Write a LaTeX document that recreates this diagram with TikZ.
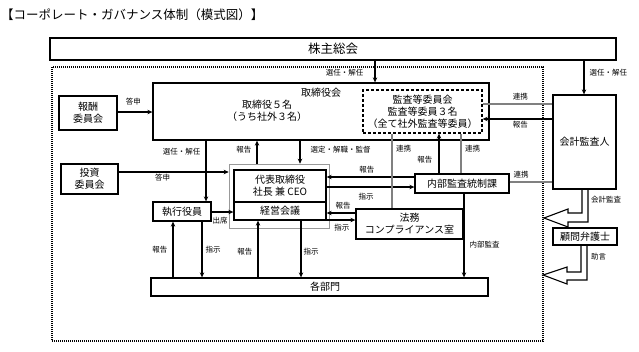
\documentclass[tikz,border=0pt]{standalone}
\usepackage{fontspec}
\setmainfont{Noto Sans CJK JP}
\usetikzlibrary{arrows.meta}

\begin{document}
\begin{tikzpicture}[x=1pt,y=-1pt,>={Stealth[length=5pt,width=4.5pt]},
 box/.style={draw,line width=1.3pt,inner sep=0pt,align=center,
 font=\fontsize{10}{12}\selectfont},
 txt/.style={inner sep=0pt,align=center,font=\fontsize{10}{12}\selectfont},
 lbl/.style={inner sep=1pt,font=\fontsize{7.5}{8}\selectfont},
 arr/.style={->,line width=1.1pt},
 link/.style={line width=2.4pt,draw=black!50},
 hollow/.style={fill=white,draw,line width=1.1pt,line join=miter}]
\useasboundingbox (0,0) rectangle (639,351);
\node[anchor=west,inner sep=0pt,font=\fontsize{12.5}{14}\selectfont] (title) at (1,15)
 {【コーポレート・ガバナンス体制（模式図）】};
\node[box,minimum width=566pt,minimum height=22pt,
 font=\fontsize{12.5}{14}\selectfont] (agm) at (333,49) {株主総会};
\node[draw,dash pattern=on 1pt off 1pt,line width=1.2pt,inner sep=0pt,
 minimum width=491pt,minimum height=274pt] (gov) at (297.5,204) {};
\draw[hollow] (582,189) -- (582,213) -- (568,213) -- (568,209) -- (544,218)
 -- (568,227) -- (568,222) -- (588,222) -- (588,189);
\draw[hollow] (581,245) -- (581,272) -- (567,272) -- (567,267) -- (543,275)
 -- (567,284) -- (567,280) -- (587,280) -- (587,245);
\node[lbl,anchor=west] (acctlbl) at (590,200) {会計監査};
\node[lbl,anchor=west] (advlbl) at (590,257) {助言};

\node[box,minimum width=336pt,minimum height=57pt] (board) at (321,111.5) {};
\node[txt] (boardname) at (321,93) {取締役会};
\node[txt] (boardmem) at (267,111) {取締役５名\\（うち社外３名）};
\node[box,dash pattern=on 3pt off 2pt,minimum width=119pt,minimum height=43pt]
 (audit) at (422.5,111.5) {監査等委員会\\監査等委員３名\\（全て社外監査等委員）};
\node[box,minimum width=63pt,minimum height=94pt] (acct) at (584.5,142) {会計監査人};
\node[box,minimum width=58pt,minimum height=34pt] (remu) at (88,113) {報酬\\委員会};
\node[box,minimum width=57pt,minimum height=30pt] (inv) at (89.5,179) {投資\\委員会};
\node[draw=black!40,line width=0.6pt,inner sep=0pt,minimum width=100pt,
 minimum height=64pt] (ceoframe) at (279,196) {};
\node[box,minimum width=92pt,minimum height=32pt] (ceo) at (280,186) {代表取締役\\社長 兼 CEO};
\node[box,minimum width=92pt,minimum height=18pt] (mgmt) at (280,211) {経営会議};
\node[box,minimum width=58pt,minimum height=19pt] (exec) at (182,211.5) {執行役員};
\node[box,minimum width=94pt,minimum height=19pt] (ia) at (462,183.5) {内部監査統制課};
\node[box,minimum width=107pt,minimum height=30pt] (legal) at (409.5,224) {法務\\コンプライアンス室};
\node[box,minimum width=337pt,minimum height=18pt] (dept) at (319.5,287) {};
\node[txt] (deptname) at (325,287) {各部門};
\node[box,minimum width=64pt,minimum height=17pt] (lawyer) at (585,236.5) {顧問弁護士};

\draw[arr] (375,0 |- agm.south) --node[lbl,pos=0.57,left=10pt]{選任・解任} (375,0 |- board.north);
\draw[arr] (584,0 |- agm.south) --node[lbl,pos=0.37,right=4pt]{選任・解任} (584,0 |- acct.north);
\draw[link] (audit.east |- 0,104) --node[lbl,pos=0.54,above=2pt,text=black]{連携} (acct.west |- 0,104);
\draw[arr] (acct.west |- 0,119) --node[lbl,pos=0.46,below=1pt]{報告} (audit.east |- 0,119);
\draw[arr] (remu.east |- 0,112) --node[lbl,pos=0.45,above=5pt]{答申} (board.west |- 0,112);
\draw[arr] (inv.east |- 0,172) --node[lbl,pos=0.4,below=1pt]{答申} (ceoframe.west |- 0,172);
\draw[arr] (206,0 |- board.south) --node[lbl,pos=0.18,left=4pt]{選任・解任} (206,0 |- exec.north);
\draw[arr] (exec.east |- 0,212) --node[lbl,pos=0.39,below=3.5pt]{出席} (mgmt.west |- 0,212);
\draw[arr] (300,0 |- board.south) --node[lbl,pos=0.38,right=9pt]{選定・解職・監督} (300,0 |- ceoframe.north);
\draw[arr] (257,0 |- ceoframe.north) --node[lbl,pos=0.62,left=4pt]{報告} (257,0 |- board.south);
\draw[arr] (ia.west |- 0,177) --node[lbl,pos=0.54,above=2pt]{報告} (ceo.east |- 0,177);
\draw[arr] (ceo.east |- 0,187) --node[lbl,pos=0.45,below=5pt]{指示} (ia.west |- 0,187);
\draw[arr] (439,0 |- ia.north) --node[lbl,pos=0.34,left=5pt]{報告} (439,0 |- audit.south);
\draw[link] (461,0 |- ia.north) --node[lbl,pos=0.63,right=2pt,text=black]{連携} (461,0 |- audit.south);
\draw[link] (392,0 |- audit.south) --node[lbl,pos=0.2,right=2pt,text=black]{連携} (392,0 |- legal.north);
\draw[link] (ia.east |- 0,182) --node[lbl,pos=0.27,above=2pt,text=black]{連携} (acct.west |- 0,182);
\draw[arr] (legal.west |- 0,213) --node[lbl,pos=0.43,above=2pt]{報告} (mgmt.east |- 0,213);
\draw[arr] (mgmt.east |- 0,220) --node[lbl,pos=0.53,below=3pt]{指示} (legal.west |- 0,220);
\draw[arr] (464,0 |- ia.south) --node[lbl,pos=0.61,right=4pt]{内部監査} (464,0 |- dept.north);
\draw[arr] (173,0 |- dept.north) --node[lbl,pos=0.49,left=4pt]{報告} (173,0 |- exec.south);
\draw[arr] (202,0 |- exec.south) --node[lbl,pos=0.51,right=2pt]{指示} (202,0 |- dept.north);
\draw[arr] (258,0 |- dept.north) --node[lbl,pos=0.45,left=4pt]{報告} (258,0 |- mgmt.south);
\draw[arr] (301,0 |- mgmt.south) --node[lbl,pos=0.55,right=1pt]{指示} (301,0 |- dept.north);
\end{tikzpicture}
\end{document}
